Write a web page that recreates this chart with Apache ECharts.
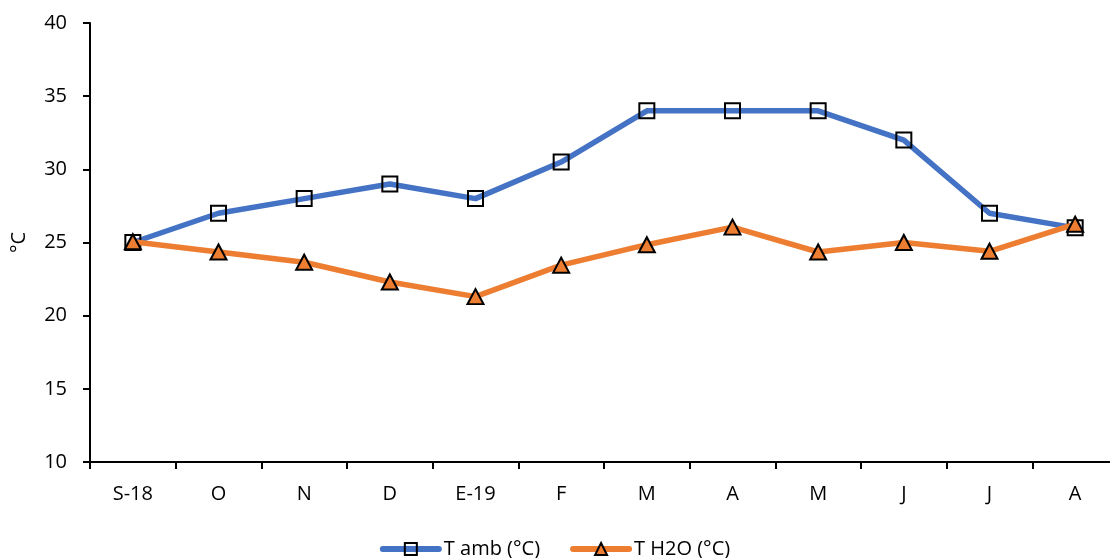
<!DOCTYPE html>
<html><head><meta charset="utf-8">
<script src="https://cdn.jsdelivr.net/npm/echarts@6/dist/echarts.min.js"></script>
<style>html,body{margin:0;padding:0;background:#fff}#c{width:1110px;height:558px}</style>
</head><body><div id="c"></div>
<script>
var categories = ['S-18','O','N','D','E-19','F','M','A','M','J','J','A'];
var tAmb = [25, 27, 28, 29, 28, 30.5, 34, 34, 34, 32, 27, 26];
var tH2O = [25.05, 24.35, 23.65, 22.3, 21.3, 23.45, 24.85, 26.05, 24.35, 25.0, 24.4, 26.25];
var yTicks = {min: 10, max: 40, interval: 5};
var seriesNames = ['T amb (°C)', 'T H2O (°C)'];
var font = '"Open Sans", sans-serif';
var chart = echarts.init(document.getElementById('c'));
chart.setOption({
  animation: false,
  grid: {left: 90, width: 1028, top: 23, height: 439, containLabel: false, outerBoundsMode: 'none'},
  legend: {
    left: 'center', top: 534,
    itemWidth: 56, itemHeight: 15, itemGap: 30,
    lineStyle: {width: 6, cap: 'round'},
    textStyle: {fontFamily: font, fontSize: 20, color: '#000'},
    data: seriesNames
  },
  xAxis: {
    type: 'category', data: categories, boundaryGap: true,
    axisLine: {lineStyle: {color: '#000', width: 2}},
    axisTick: {show: true, length: 7, lineStyle: {color: '#000', width: 2}},
    axisLabel: {color: '#000', fontFamily: font, fontSize: 20, margin: 22}
  },
  yAxis: {
    type: 'value', min: yTicks.min, max: yTicks.max, interval: yTicks.interval,
    name: '°C', nameLocation: 'middle', nameGap: 61, nameRotate: 90,
    nameTextStyle: {color: '#000', fontFamily: font, fontSize: 20},
    splitLine: {show: false},
    axisLine: {show: true, lineStyle: {color: '#000', width: 2}},
    axisTick: {show: true, length: 7, lineStyle: {color: '#000', width: 2}},
    axisLabel: {color: '#000', fontFamily: font, fontSize: 20, margin: 23}
  },
  series: [
    {
      name: seriesNames[0], type: 'line', data: tAmb,
      symbol: 'rect', symbolSize: 15,
      lineStyle: {color: '#4472C4', width: 5.5},
      itemStyle: {color: 'rgba(255,255,255,0)', borderColor: '#000', borderWidth: 2},
      z: 2
    },
    {
      name: seriesNames[1], type: 'line', data: tH2O,
      symbol: 'triangle', symbolSize: [16, 15],
      lineStyle: {color: '#ED7D31', width: 5.5},
      itemStyle: {color: '#ED7D31', borderColor: '#000', borderWidth: 2},
      z: 3
    }
  ]
});
</script></body></html>
